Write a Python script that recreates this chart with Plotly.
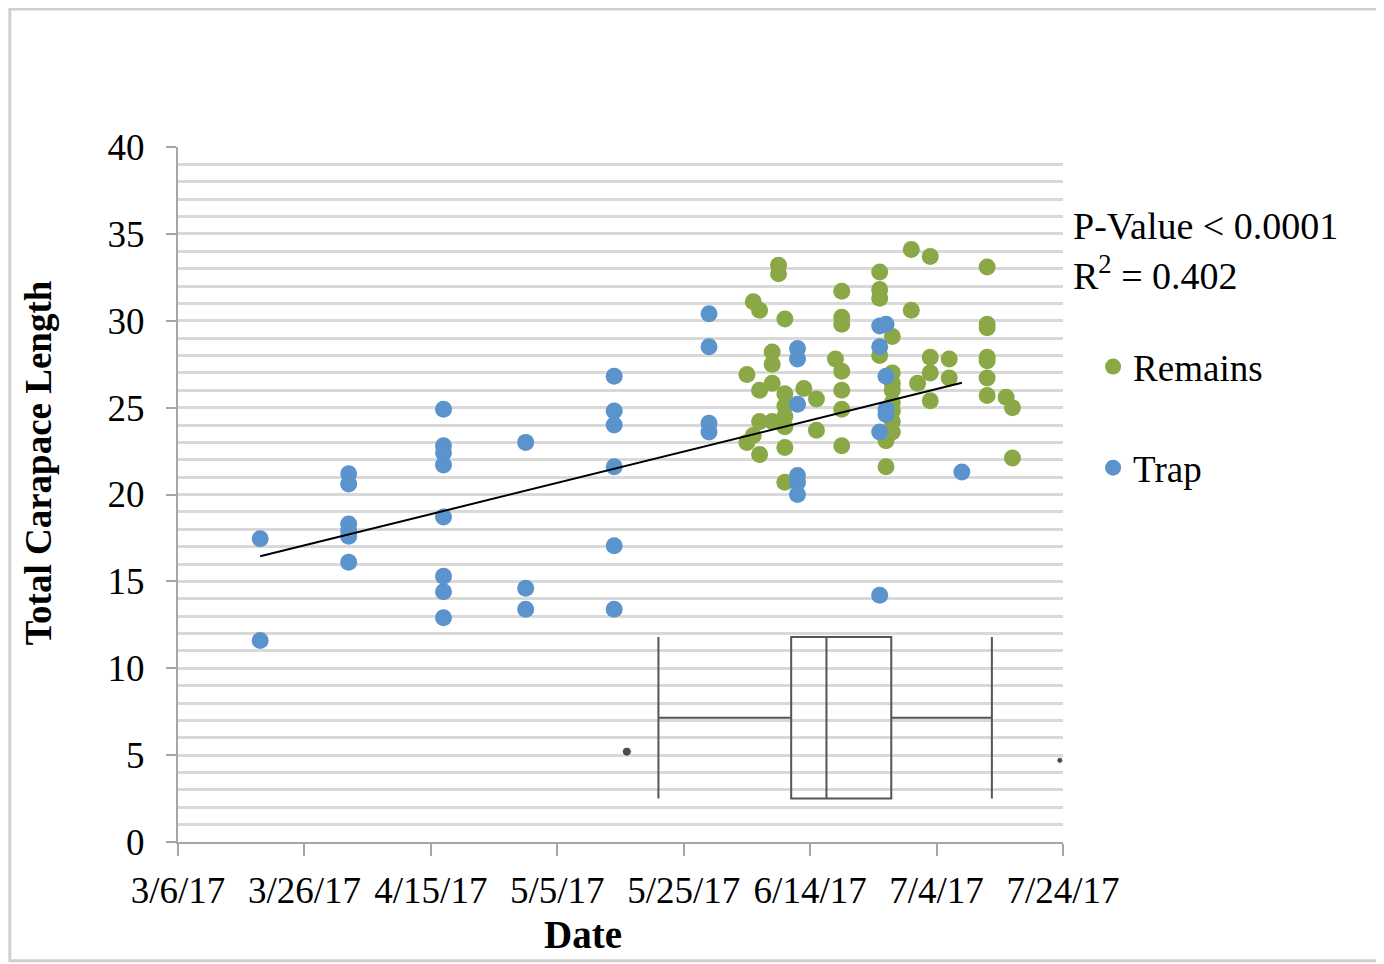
import numpy as np
import pandas as pd
import plotly.graph_objects as go

# ---------------- data ----------------
remains_dates = (["2017-06-04"] * 2 + ["2017-06-05"] * 2 + ["2017-06-06"] * 4 + ["2017-06-08"] * 4 +
                 ["2017-06-09"] * 2 + ["2017-06-10"] * 7 + ["2017-06-13"] + ["2017-06-15"] * 2 +
                 ["2017-06-18"] + ["2017-06-19"] * 7 + ["2017-06-25"] * 4 + ["2017-06-26"] * 2 +
                 ["2017-06-27"] * 8 + ["2017-06-30"] * 2 + ["2017-07-01"] + ["2017-07-03"] * 4 +
                 ["2017-07-06"] * 2 + ["2017-07-12"] * 7 + ["2017-07-15"] + ["2017-07-16"] * 2)
remains_len = [26.9, 23.0,
               31.1, 23.4,
               30.6, 26.0, 24.2, 22.3,
               28.2, 27.5, 26.4, 24.2,
               33.2, 32.7,
               30.1, 25.8, 25.1, 24.5, 23.9, 22.7, 20.7,
               26.1,
               25.5, 23.7,
               27.8,
               31.7, 30.2, 29.8, 27.1, 26.0, 24.9, 22.8,
               32.8, 31.8, 31.3, 28.0,
               23.1, 21.6,
               29.1, 27.0, 26.4, 26.0, 25.3, 24.8, 24.2, 23.6,
               34.1, 30.6,
               26.4,
               33.7, 27.9, 27.0, 25.4,
               27.8, 26.7,
               33.1, 29.8, 29.6, 27.9, 27.7, 26.7, 25.7,
               25.6,
               25.0, 22.1]

trap_dates = (["2017-03-19"] * 2 + ["2017-04-02"] * 6 + ["2017-04-17"] * 8 + ["2017-04-30"] * 3 +
              ["2017-05-14"] * 6 + ["2017-05-29"] * 4 + ["2017-06-12"] * 6 + ["2017-06-25"] * 4 +
              ["2017-06-26"] * 4 + ["2017-07-08"])
trap_len = [17.45, 11.6,
            21.2, 20.6, 18.3, 17.9, 17.6, 16.1,
            24.9, 22.8, 22.4, 21.7, 18.7, 15.3, 14.4, 12.9,
            23.0, 14.6, 13.4,
            26.8, 24.8, 24.0, 21.6, 17.05, 13.4,
            30.4, 28.5, 24.1, 23.6,
            28.4, 27.8, 25.2, 21.1, 20.7, 20.0,
            29.7, 28.5, 23.6, 14.2,
            29.8, 26.8, 24.9, 24.6,
            21.3]

# inset box-plot summary (dates)
box_stats = dict(lowerfence="2017-05-21", q1="2017-06-11", median="2017-06-16 14:00",
                 q3="2017-06-26 20:00", upperfence="2017-07-12 18:00")
box_center = 7.15
box_height = 9.3
outlier_dates = ["2017-05-16", "2017-07-23 12:00"]
outlier_vals = [5.2, 4.7]

x_tick_dates = ["2017-03-06", "2017-03-26", "2017-04-15", "2017-05-05",
                "2017-05-25", "2017-06-14", "2017-07-04", "2017-07-24"]
x_tick_labels = ["3/6/17", "3/26/17", "4/15/17", "5/5/17",
                 "5/25/17", "6/14/17", "7/4/17", "7/24/17"]

FONT = "Liberation Serif"
FS = 37
GREEN = "#8BA846"
BLUE = "#5B93CD"

# ---------------- trend (linear fit over trap data) ----------------
td = pd.to_datetime(trap_dates)
tdays = (td - td.min()).days.values.astype(float)
slope, intercept = np.polyfit(tdays, np.array(trap_len), 1)
trend_x = [td.min(), td.max()]
trend_y = [intercept, intercept + slope * tdays.max()]

fig = go.Figure()

fig.add_trace(go.Scatter(
    x=remains_dates, y=remains_len, mode="markers", name="Remains",
    legendgroup="r", marker=dict(color=GREEN, size=17)))
fig.add_trace(go.Scatter(
    x=trap_dates, y=trap_len, mode="markers", name="Trap",
    legendgroup="t", marker=dict(color=BLUE, size=17)))
fig.add_trace(go.Scatter(
    x=trend_x, y=trend_y, mode="lines", showlegend=False,
    line=dict(color="black", width=2)))

fig.add_trace(go.Box(
    orientation="h", y=[box_center],
    q1=[box_stats["q1"]], median=[box_stats["median"]], q3=[box_stats["q3"]],
    lowerfence=[box_stats["lowerfence"]], upperfence=[box_stats["upperfence"]],
    width=box_height, whiskerwidth=1, boxpoints=False, showlegend=False,
    fillcolor="rgba(0,0,0,0)", line=dict(color="#555555", width=2)))
fig.add_trace(go.Scatter(
    x=outlier_dates, y=outlier_vals, mode="markers", showlegend=False,
    marker=dict(color="black", size=[9, 6])))

fig.update_layout(
    width=1376, height=956,
    margin=dict(l=170, r=321, t=139, b=122),
    paper_bgcolor="white", plot_bgcolor="white",
    font=dict(family=FONT, size=FS, color="black"),
    showlegend=True,
    legend=dict(x=1.034, y=0.728, xanchor="left", yanchor="top",
                traceorder="grouped", tracegroupgap=50,
                font=dict(family=FONT, size=FS, color="black"),
                bgcolor="rgba(0,0,0,0)"),
    xaxis=dict(type="date", range=["2017-03-06", "2017-07-24"],
               tickvals=x_tick_dates, ticktext=x_tick_labels,
               showgrid=False, zeroline=False,
               showline=True, linecolor="#a6a6a6", linewidth=2,
               ticks="outside", ticklen=12, tickcolor="#a6a6a6", tickwidth=2,
               ticklabelstandoff=3,
               tickfont=dict(family=FONT, size=FS, color="black")),
    yaxis=dict(range=[0, 40], dtick=5, tick0=0,
               showgrid=True, gridcolor="#d9d9d9", gridwidth=3,
               minor=dict(dtick=1, showgrid=True, gridcolor="#d9d9d9", gridwidth=3),
               zeroline=False,
               showline=True, linecolor="#a6a6a6", linewidth=2,
               ticks="outside", ticklen=10, tickcolor="#a6a6a6", tickwidth=2,
               ticklabelstandoff=14,
               tickfont=dict(family=FONT, size=FS, color="black")),
)

fig.add_annotation(text="P-Value < 0.0001", xref="paper", yref="paper",
                   x=1.0090, y=0.8870, xanchor="left", yanchor="middle",
                   showarrow=False, font=dict(family=FONT, size=38, color="black"))
fig.add_annotation(text="R<sup>2</sup> = 0.402", xref="paper", yref="paper",
                   x=1.0090, y=0.8190, xanchor="left", yanchor="middle",
                   showarrow=False, font=dict(family=FONT, size=38, color="black"))
fig.add_annotation(text="<b>Total Carapace Length</b>", xref="paper", yref="paper",
                   x=-0.158, y=0.5453, xanchor="center", yanchor="middle", textangle=-90,
                   showarrow=False, font=dict(family=FONT, size=FS, color="black"))
fig.add_annotation(text="<b>Date</b>", xref="paper", yref="paper",
                   x=0.4576, y=-0.1338, xanchor="center", yanchor="middle",
                   showarrow=False, font=dict(family=FONT, size=39, color="black"))

# outer chart border
fig.add_shape(type="rect", xref="paper", yref="paper",
              x0=-0.190, x1=1.356, y0=-0.171, y1=1.1986,
              line=dict(color="#d0d0d0", width=3), fillcolor="rgba(0,0,0,0)", layer="below")

fig.write_html("out.html")
